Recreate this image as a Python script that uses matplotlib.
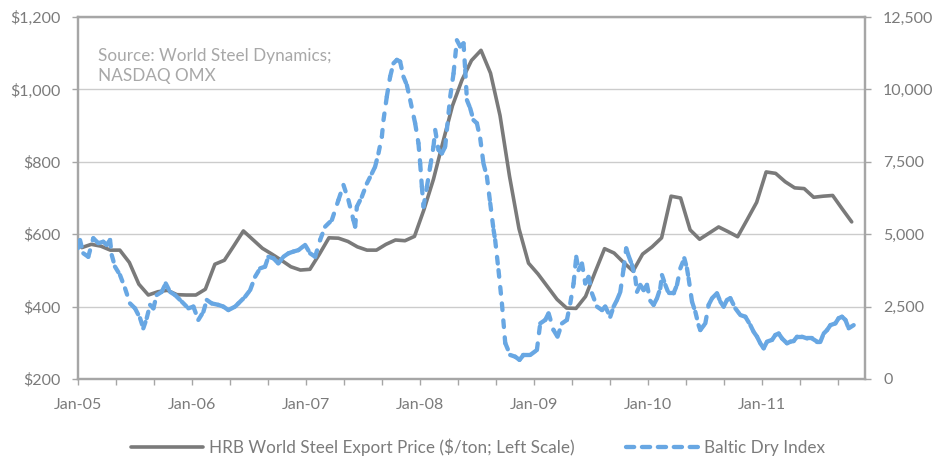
import matplotlib
matplotlib.use("Agg")
import matplotlib.pyplot as plt
import numpy as np
from matplotlib.collections import LineCollection
from matplotlib.lines import Line2D

plt.rcParams["font.family"] = ["Lato", "DejaVu Sans"]

# ---- data -------------------------------------------------------------
# HRB world steel export price ($/ton), monthly from Jan-05 (dated mid-month)
steel_price = [563, 572, 567, 556, 556, 522, 462, 432, 441, 445, 433, 432,
               432, 448, 517, 528, 568, 609, 585, 561, 545, 528, 510, 501,
               503, 545, 590, 589, 580, 565, 556, 556, 572, 584, 582, 594,
               668, 752, 855, 955, 1026, 1080, 1108, 1045, 928, 760, 615, 520,
               490, 455, 420, 396, 395, 428, 495, 560, 548, 522, 498, 545,
               565, 590, 705, 700, 612, 586, 603, 620, 607, 593, 640, 688,
               772, 768, 745, 728, 726, 702, 705, 707, 670, 634]
steel_offset = 0.4  # observation within each month

# Baltic Dry Index: months since Jan-05 and index level
bdi_month = [0.0, 0.21, 0.56, 1.08, 1.61, 2.14, 2.66, 3.02, 3.37, 3.55, 3.89, 4.42,
             4.95, 5.47, 6.0, 6.53, 6.87, 7.23, 7.58, 7.93, 8.28, 8.81, 9.23, 9.68,
             10.21, 10.92, 11.61, 12.14, 12.66, 13.19, 13.55, 14.07, 14.77, 15.29, 15.82, 16.53,
             16.87, 17.58, 18.11, 18.63, 19.16, 19.68, 20.03, 20.56, 21.08, 21.61, 22.14, 22.66,
             23.19, 23.89, 24.42, 24.95, 25.47, 26.0, 26.71, 27.4, 27.93, 28.45, 28.98, 29.16,
             29.34, 29.86, 30.39, 30.92, 31.26, 31.61, 31.97, 32.14, 32.49, 32.84, 33.19, 33.55,
             33.89, 34.24, 34.6, 34.95, 35.47, 35.82, 36.0, 36.18, 36.35, 36.71, 37.05, 37.4,
             37.58, 37.93, 38.28, 38.63, 38.81, 39.16, 39.51, 39.86, 40.21, 40.56, 40.74, 40.92,
             41.26, 41.61, 41.97, 42.32, 42.66, 43.02, 43.37, 43.72, 43.89, 44.24, 44.6, 44.95,
             45.47, 46.0, 46.45, 46.87, 47.58, 48.28, 48.63, 49.16, 49.51, 50.03, 50.45, 50.92,
             51.44, 51.79, 52.14, 52.42, 52.66, 53.02, 53.37, 53.72, 54.07, 54.6, 55.13, 55.47,
             56.0, 56.35, 56.71, 57.05, 57.4, 57.68, 57.93, 58.28, 58.63, 58.81, 59.16, 59.51,
             59.86, 60.21, 60.56, 60.92, 61.26, 61.44, 61.79, 62.14, 62.66, 63.02, 63.37, 63.79,
             64.07, 64.24, 64.6, 64.95, 65.29, 65.47, 66.0, 66.35, 66.71, 67.23, 67.58, 67.93,
             68.28, 68.63, 69.16, 69.68, 70.21, 70.74, 71.08, 71.44, 71.79, 72.14, 72.49, 73.02,
             73.37, 73.72, 74.07, 74.6, 74.95, 75.29, 75.65, 76.18, 76.71, 77.23, 77.76, 78.11,
             78.45, 78.81, 79.16, 79.68, 80.03, 80.38, 80.74, 81.08, 81.61]
bdi_value = [4520, 4800, 4340, 4220, 4860, 4690, 4740, 4630, 4800, 4280, 3880, 3590,
             3130, 2610, 2440, 2100, 1750, 2100, 2560, 2440, 2900, 3010, 3300, 3010,
             2900, 2670, 2440, 2500, 2040, 2320, 2730, 2610, 2560, 2500, 2380, 2500,
             2610, 2840, 3070, 3530, 3820, 3880, 4220, 4170, 3990, 4220, 4340, 4400,
             4450, 4630, 4340, 4220, 4800, 5260, 5490, 6180, 6700, 6180, 5490, 5260,
             5950, 6290, 6750, 7100, 7330, 7790, 8370, 8940, 9750, 10440, 10900, 11020,
             10960, 10440, 10150, 9630, 8830, 8140, 7440, 6640, 5950, 6640, 7330, 8020,
             8600, 7910, 7790, 8020, 8600, 9750, 10550, 11700, 11480, 11590, 10670, 9630,
             9350, 8940, 8830, 8300, 7440, 6990, 6070, 5150, 4800, 3760, 2610, 1240,
             830, 770, 660, 830, 830, 1000, 1920, 2040, 2270, 1690, 1460, 1920,
             2040, 2610, 3300, 4220, 3760, 3990, 3300, 3530, 2960, 2500, 2380, 2500,
             2150, 2500, 2730, 3000, 3800, 4510, 4250, 3950, 3500, 3010, 3250, 3070,
             3250, 2700, 2560, 2790, 3130, 3590, 3250, 2960, 2960, 3250, 3820, 4170,
             3820, 3480, 2670, 2320, 1860, 1690, 1920, 2560, 2790, 2960, 2670, 2500,
             2730, 2790, 2440, 2210, 2150, 1860, 1630, 1460, 1230, 1060, 1290, 1350,
             1520, 1570, 1400, 1230, 1290, 1310, 1460, 1460, 1400, 1400, 1290, 1290,
             1570, 1690, 1860, 1920, 2100, 2150, 2040, 1750, 1860]

year_labels = ["Jan-05", "Jan-06", "Jan-07", "Jan-08", "Jan-09", "Jan-10", "Jan-11"]
left_ticks = [200, 400, 600, 800, 1000, 1200]
left_labels = ["$200", "$400", "$600", "$800", "$1,000", "$1,200"]
right_ticks = [0, 2500, 5000, 7500, 10000, 12500]
right_labels = ["0", "2,500", "5,000", "7,500", "10,000", "12,500"]

steel_name = "HRB World Steel Export Price ($/ton; Left Scale)"
bdi_name = "Baltic Dry Index"
source_text = "Source: World Steel Dynamics;\nNASDAQ OMX"

# ---- style ------------------------------------------------------------
GRAY = "#7a7a7a"
BLUE = "#68a7e3"
FRAME = "#a6a6a6"
GRID = "#cccccc"
TEXT = "#7b7b7b"
FS = 11.5
FS_TEXT = 12.3
BDI_LW = 3.1
BDI_DASH = (1.55, 2.4)

W, H = 934, 459
fig = plt.figure(figsize=(W / 100, H / 100), dpi=100)
ax = fig.add_axes([78 / W, 1 - 379 / H, (865 - 78) / W, (379 - 17) / H])
ax2 = ax.twinx()

ax.set_xlim(0, 82.8)
ax.set_ylim(200, 1200)
ax2.set_ylim(0, 12500)

# grid
ax.set_yticks(left_ticks)
ax.set_yticklabels(left_labels)
ax.yaxis.grid(True, color=GRID, lw=1.0)
ax.set_axisbelow(True)

# x ticks every four months, labels each January
xt = list(range(0, 81, 4))
ax.set_xticks(xt)
ax.set_xticklabels([year_labels[t // 12] if t % 12 == 0 else "" for t in xt])

ax2.set_yticks(right_ticks)
ax2.set_yticklabels(right_labels)

for a in (ax, ax2):
    for s in a.spines.values():
        s.set_color(FRAME)
        s.set_linewidth(1.6)
    a.tick_params(axis="both", colors=FRAME, labelcolor=TEXT, labelsize=FS,
                  length=4.5, width=1.0, direction="out")
ax.tick_params(axis="y", pad=8)
ax2.tick_params(axis="y", pad=8.5)
ax.tick_params(axis="x", pad=9)

# steel price line
sx = np.arange(len(steel_price)) + steel_offset
ax.plot(sx, steel_price, color=GRAY, lw=2.6, solid_joinstyle="round",
        solid_capstyle="round", zorder=3)

# Baltic Dry Index: dashes restart on every segment
pts = np.column_stack([bdi_month, bdi_value])
segs = np.stack([pts[:-1], pts[1:]], axis=1)
lc = LineCollection(segs, colors=BLUE, linewidths=BDI_LW,
                    linestyles=[(0, BDI_DASH)], capstyle="round", zorder=4)
ax2.add_collection(lc)

ax.text((98 - 78) / (865 - 78), (379 - 48) / (379 - 17), source_text,
        transform=ax.transAxes, ha="left", va="top", fontsize=FS_TEXT,
        color="#a8a8a8", linespacing=1.3)

handles = [
    Line2D([0], [0], color=GRAY, lw=2.6, solid_capstyle="round"),
    Line2D([0], [0], color=BLUE, lw=BDI_LW, dashes=(1.9, 1.8), dash_capstyle="round"),
]
leg = fig.legend(handles, [steel_name, bdi_name], loc="center",
                 bbox_to_anchor=(478 / W, 1 - 447 / H), ncol=2, frameon=False,
                 fontsize=FS_TEXT, handlelength=4.2, handletextpad=0.35,
                 columnspacing=3.0, labelcolor=TEXT)

fig.savefig("out.png", dpi=100)
